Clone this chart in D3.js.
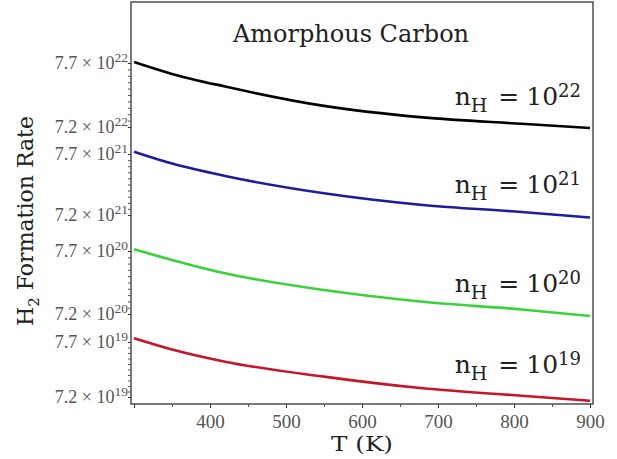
<!DOCTYPE html>
<html>
<head>
<meta charset="utf-8">
<script src="https://cdn.jsdelivr.net/npm/d3@7"></script>
<style>
  html, body { margin: 0; padding: 0; background: #fff; }
  svg { display: block; }
</style>
</head>
<body>
<svg id="chart" width="617" height="459"></svg>
<script>
// ---- data ----
const temps = [300, 350, 420, 550, 680, 810, 900];           // T (K)
const exponents = [22, 21, 20, 19];                           // n_H = 10^exp
const rate22 = [7.708, 7.615, 7.516, 7.365, 7.275, 7.225, 7.192]; // ×10^22
const rate21 = [7.719, 7.622, 7.520, 7.378, 7.282, 7.225, 7.180]; // ×10^21
const rate20 = [7.713, 7.629, 7.523, 7.390, 7.297, 7.236, 7.184]; // ×10^20
const rate19 = [7.734, 7.632, 7.521, 7.385, 7.279, 7.212, 7.166]; // ×10^19
const seriesRates = [rate22, rate21, rate20, rate19];
const seriesColors = ["#000000", "#1c1c9c", "#3ad23a", "#c81428"];
const yTickMantissas = [7.7, 7.2];
const xTickValues = [300, 400, 500, 600, 700, 800, 900];
const xTickLabels = ["", "400", "500", "600", "700", "800", "900"];
const labelMantissas = [7.372, 7.38, 7.375, 7.418];
const titleText = "Amorphous Carbon";

// ---- layout ----
const svg = d3.select("#chart");
const frame = {left: 131, right: 593, top: 2, bottom: 404};
const x = d3.scaleLinear().domain([300, 900]).range([134, 590]);
// each n_H curve gets its own band of the vertical axis
const bandTop = [63, 154, 251, 342];
const bandBottom = [127, 215, 314, 397];
const yBand = exponents.map((e, i) =>
  d3.scaleLinear().domain([7.2, 7.7]).range([bandBottom[i], bandTop[i]]));

const serif = "'Liberation Serif', 'Times New Roman', serif";
const wide = "'DejaVu Serif', serif";

// frame
svg.append("rect")
  .attr("x", frame.left).attr("y", frame.top)
  .attr("width", frame.right - frame.left).attr("height", frame.bottom - frame.top)
  .attr("fill", "none").attr("stroke", "#333").attr("stroke-width", 1.3);

// x axis
const xAxis = d3.axisBottom(x)
  .tickValues(xTickValues)
  .tickSize(4)
  .tickFormat((d, i) => xTickLabels[i]);
const gx = svg.append("g").attr("transform", `translate(0,${frame.bottom})`).call(xAxis);
gx.select(".domain").remove();
gx.selectAll(".tick line").attr("stroke", "#333");
gx.selectAll(".tick text")
  .attr("font-family", serif).attr("font-size", 19).attr("fill", "#555").attr("dy", "0.9em");
const xMinor = d3.axisBottom(x).tickValues(d3.range(350, 900, 100)).tickSize(3).tickFormat("");
const gxm = svg.append("g").attr("transform", `translate(0,${frame.bottom})`).call(xMinor);
gxm.select(".domain").remove();
gxm.selectAll(".tick line").attr("stroke", "#555");

// y axes per band
exponents.forEach((e, i) => {
  const ya = d3.axisLeft(yBand[i]).tickValues(yTickMantissas).tickSize(3).tickFormat("");
  const g = svg.append("g").attr("transform", `translate(${frame.left},0)`).call(ya);
  g.select(".domain").remove();
  g.selectAll(".tick line").attr("stroke", "#333");
  const ym = d3.axisLeft(yBand[i]).tickValues(d3.range(7.25, 7.69, 0.05)).tickSize(3).tickFormat("");
  const gm = svg.append("g").attr("transform", `translate(${frame.left},0)`).call(ym);
  gm.select(".domain").remove();
  gm.selectAll(".tick line").attr("stroke", "#555");
  yTickMantissas.forEach(m => {
    const t = svg.append("text")
      .attr("x", 128).attr("y", yBand[i](m) + 6)
      .attr("text-anchor", "end")
      .attr("font-family", serif).attr("font-size", 18).attr("fill", "#555");
    t.append("tspan").text(d3.format(".1f")(m) + " \u00d7 10");
    t.append("tspan").attr("dy", -7).attr("font-size", 13.5).text(e);
  });
});

// curves
const line = i => d3.line()
  .x((d, k) => x(temps[k]))
  .y(d => yBand[i](d))
  .curve(d3.curveMonotoneX);
seriesRates.forEach((vals, i) => {
  svg.append("path")
    .datum(vals)
    .attr("d", line(i))
    .attr("fill", "none")
    .attr("stroke", seriesColors[i])
    .attr("stroke-width", 2.6);
});

// n_H labels
exponents.forEach((e, i) => {
  const t = svg.append("text")
    .attr("x", 581).attr("y", yBand[i](labelMantissas[i]))
    .attr("text-anchor", "end")
    .attr("font-family", wide).attr("font-size", 25).attr("fill", "#222");
  t.append("tspan").text("n");
  t.append("tspan").attr("font-size", 19).attr("dy", 7).text("H");
  t.append("tspan").attr("dy", -7).attr("dx", 11).text("=");
  t.append("tspan").attr("dx", 7).text("10");
  t.append("tspan").attr("font-size", 18).attr("dy", -8).text(e);
});

// title
svg.append("text")
  .attr("x", 351).attr("y", 42)
  .attr("text-anchor", "middle")
  .attr("font-family", wide).attr("font-size", 24).attr("fill", "#222")
  .text(titleText);

// axis titles
svg.append("text")
  .attr("x", 362).attr("y", 451)
  .attr("text-anchor", "middle")
  .attr("font-family", wide).attr("font-size", 21).attr("fill", "#222")
  .attr("textLength", 62).attr("lengthAdjust", "spacingAndGlyphs")
  .text("T (K)");

const yt = svg.append("text")
  .attr("transform", "translate(33,221) rotate(-90)")
  .attr("text-anchor", "middle")
  .attr("font-family", wide).attr("font-size", 22).attr("fill", "#222");
yt.append("tspan").text("H");
yt.append("tspan").attr("font-size", 15).attr("dy", 6).text("2");
yt.append("tspan").attr("dy", -6).text(" Formation Rate");
</script>
</body>
</html>
